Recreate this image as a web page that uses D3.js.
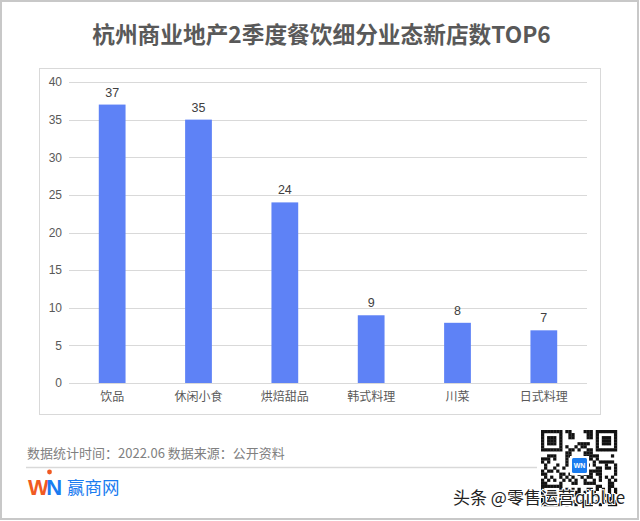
<!DOCTYPE html>
<html><head><meta charset="utf-8">
<script src="https://cdn.jsdelivr.net/npm/d3@7"></script>
<style>
html,body{margin:0;padding:0;background:#fff;}
svg{display:block;font-family:"Noto Sans CJK SC","Noto Sans",sans-serif;}
</style></head>
<body>
<svg id="c" width="640" height="521"></svg>
<script>
const categories = ["饮品","休闲小食","烘焙甜品","韩式料理","川菜","日式料理"];
const values = [37,35,24,9,8,7];
const yTicks = [0,5,10,15,20,25,30,35,40];
const titleText = "杭州商业地产2季度餐饮细分业态新店数TOP6";
const noteText = "数据统计时间：2022.06  数据来源：公开资料";

const svg = d3.select("#c");
// outer frame
svg.append("rect").attr("x",1).attr("y",1).attr("width",637).attr("height",518)
  .attr("fill","#fff").attr("stroke","#c8c8c8").attr("stroke-width",2);

// title
svg.append("text").attr("x",321.5).attr("y",42.5).attr("text-anchor","middle")
  .attr("font-size",22.7).attr("font-weight","bold").attr("fill","#595959").text(titleText);

// inner chart box
svg.append("rect").attr("x",39.5).attr("y",68.5).attr("width",561).attr("height",346)
  .attr("fill","#fff").attr("stroke","#d9d9d9").attr("stroke-width",1);

const x = d3.scaleBand().domain(categories).range([69,587]).paddingInner(0.69).paddingOuter(0.345);
const y = d3.scaleLinear().domain([0,40]).range([383,82]);

// gridlines
svg.append("g").selectAll("line").data(yTicks).join("line")
  .attr("x1",69).attr("x2",587).attr("y1",d=>Math.round(y(d))+0.5).attr("y2",d=>Math.round(y(d))+0.5)
  .attr("stroke","#d9d9d9").attr("stroke-width",1);

// y axis labels
const yAxis = d3.axisLeft(y).tickValues(yTicks).tickSize(0).tickPadding(6);
const gy = svg.append("g").attr("transform","translate(68,0)").call(yAxis);
gy.select(".domain").remove();
gy.selectAll("text").attr("font-size",12).attr("fill","#595959").attr("font-family","Liberation Sans, Arial, sans-serif");

// x axis labels
const xAxis = d3.axisBottom(x).tickSize(0).tickPadding(9);
const gx = svg.append("g").attr("transform","translate(0,383)").call(xAxis);
gx.select(".domain").remove();
gx.selectAll("text").attr("font-size",12).attr("fill","#595959").attr("font-family","Noto Sans CJK SC");

// bars
svg.append("g").selectAll("rect").data(values).join("rect")
  .attr("x",(d,i)=>x(categories[i])).attr("width",x.bandwidth())
  .attr("y",d=>y(d)).attr("height",d=>y(0)-y(d)).attr("fill","#5e82f6");

// value labels
svg.append("g").selectAll("text").data(values).join("text")
  .attr("x",(d,i)=>x(categories[i])+x.bandwidth()/2).attr("y",d=>y(d)-8)
  .attr("text-anchor","middle").attr("font-size",12.5).attr("fill","#404040")
  .attr("font-family","Liberation Sans, Arial, sans-serif").text(d=>d);

// footnote
svg.append("text").attr("x",27).attr("y",458).attr("font-size",13).attr("fill","#808080").text(noteText);
svg.append("line").attr("x1",26).attr("x2",537).attr("y1",467.5).attr("y2",467.5).attr("stroke","#d9d9d9").attr("stroke-width",1.5);

// logo
const lg = svg.append("g");
lg.append("text").attr("x",28).attr("y",495).attr("font-size",22).attr("font-weight","bold")
  .attr("font-family","Liberation Sans, Arial, sans-serif").attr("letter-spacing",-2.5)
  .selectAll("tspan").data([["W","#f05a22"],["N","#1a7cf0"]]).join("tspan").attr("fill",d=>d[1]).text(d=>d[0]);
lg.append("circle").attr("cx",49.5).attr("cy",472).attr("r",2.4).attr("fill","#f05a22");
lg.append("text").attr("x",67).attr("y",494).attr("font-size",17.5).attr("fill","#1a7cf0").text("赢商网");

// QR code (decorative)
const qx=541, qy=430, qs=76, n=25, cs=qs/n;
const qr = svg.append("g");
qr.append("rect").attr("x",qx).attr("y",qy).attr("width",qs).attr("height",qs).attr("fill","#fff");
const cells=[];
function finder(i,j){return (i<7&&j<7)||(i<7&&j>=n-7)||(i>=n-7&&j<7);}
for(let i=0;i<n;i++)for(let j=0;j<n;j++){
  let on;
  if(finder(i,j)){
    const a=i<7?i:i-(n-7), b=j<7?j:j-(n-7);
    on = (a===0||a===6||b===0||b===6) || (a>=2&&a<=4&&b>=2&&b<=4);
  } else if((i===7&&(j<8||j>=n-8))||(j===7&&(i<8||i>=n-8))||(i<8&&j===n-8)||(i>=n-8&&j===7)) on=false;
  else on = ((i*i*3 + j*7 + i*j*5 + (i^j)) % 7) < 3;
  if(on) cells.push([i,j]);
}
qr.selectAll("rect.c").data(cells).join("rect").attr("class","c")
  .attr("x",d=>qx+d[1]*cs).attr("y",d=>qy+d[0]*cs).attr("width",cs+0.2).attr("height",cs+0.2).attr("fill","#111");
qr.append("rect").attr("x",570).attr("y",456).attr("width",19).attr("height",19).attr("fill","#fff");
qr.append("rect").attr("x",572).attr("y",458).attr("width",15).attr("height",15).attr("rx",1.5).attr("fill","#1a7cf0");
qr.append("text").attr("x",579.5).attr("y",468).attr("text-anchor","middle").attr("font-size",7).attr("font-weight","bold")
  .attr("fill","#fff").attr("font-family","Liberation Sans, Arial").text("WN");

// watermark
svg.append("text").attr("x",453).attr("y",504).attr("font-size",17).attr("fill","#222")
  .attr("stroke","#fff").attr("stroke-width",2).attr("paint-order","stroke").text("头条 @零售运营qiblue");
</script>
</body></html>
